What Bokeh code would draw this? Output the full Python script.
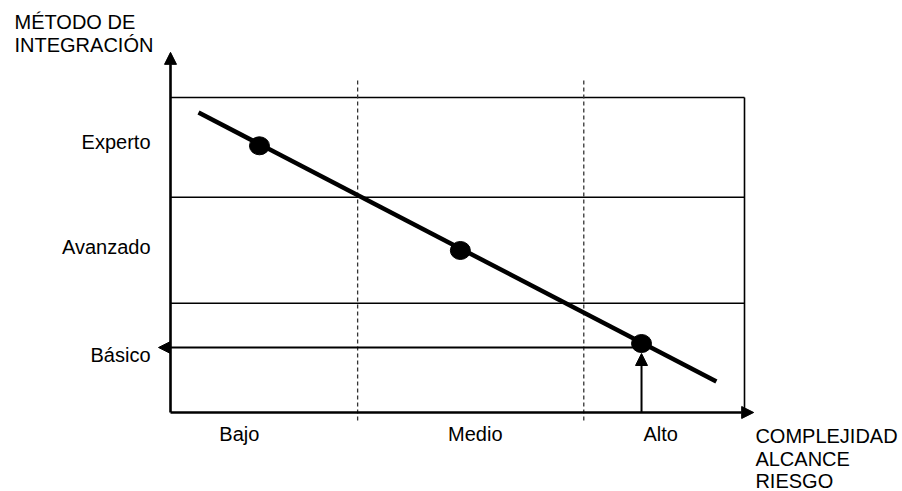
from bokeh.plotting import figure
from bokeh.models import Range1d, Arrow, NormalHead
from bokeh.core.properties import value
from bokeh.embed import file_html
from bokeh.resources import INLINE

# ---- data ----
levels = ["Básico", "Avanzado", "Experto"]           # y categories (bottom -> top)
level_bounds = [0.0, 1.04, 2.05, 3.0]                # horizontal band limits
level_label_y = [0.464, 1.495, 2.495]                # label baselines
categories = ["Bajo", "Medio", "Alto"]               # x categories
cat_bounds = [0.0, 32.6, 72.0, 100.0]                # vertical band limits
cat_label_x = [12.0, 53.1, 85.4]                     # label centres
trend_x = [4.88, 95.1]
trend_y = [2.857, 0.295]
point_x = [15.5, 50.5, 82.06]
point_y = [2.54, 1.543, 0.657]
selected = 2                                         # index of the highlighted point
y_title = ["MÉTODO DE", "INTEGRACIÓN"]
x_title = ["COMPLEJIDAD", "ALCANCE", "RIESGO"]

FONT = value("Liberation Sans")
FS = "20px"
DY = 0.0857   # baseline correction for the svg text renderer

p = figure(width=902, height=491, output_backend="svg", toolbar_location=None,
           x_axis_type=None, y_axis_type=None, min_border=0,
           x_range=Range1d(-29.617, 127.526), y_range=Range1d(-0.7524, 3.9238))
p.grid.visible = False
p.outline_line_color = None
p.background_fill_color = "white"

xmin, xmax = cat_bounds[0], cat_bounds[-1]
ymin, ymax = level_bounds[0], level_bounds[-1]

# horizontal band lines
for yb in level_bounds[1:]:
    p.segment(x0=xmin, y0=yb, x1=xmax, y1=yb, line_color="black", line_width=1.6)
# right border
p.segment(x0=xmax, y0=ymin, x1=xmax, y1=ymax, line_color="black", line_width=1.6)
# dashed category separators
for xb in cat_bounds[1:-1]:
    p.segment(x0=xb, y0=-0.076, x1=xb, y1=3.18, line_color="#333333",
              line_width=1.3, line_dash="4 3")

# axes with arrowheads
p.add_layout(Arrow(end=NormalHead(size=12, fill_color="black", line_color="black"),
                   x_start=xmin, y_start=ymin, x_end=xmin, y_end=3.43,
                   line_color="black", line_width=2.6))
p.add_layout(Arrow(end=NormalHead(size=12, fill_color="black", line_color="black"),
                   x_start=xmin, y_start=ymin, x_end=101.6, y_end=ymin,
                   line_color="black", line_width=2.6))

# trend line
p.line(trend_x, trend_y, line_color="black", line_width=4.5)

# points
p.ellipse(x=point_x, y=point_y, width=20, height=18, width_units="screen",
          height_units="screen", fill_color="black", line_color="black")

# arrows from selected point
sx, sy = point_x[selected], point_y[selected]
p.add_layout(Arrow(end=NormalHead(size=12, fill_color="black", line_color="black"),
                   x_start=sx, y_start=0.619, x_end=-2.09, y_end=0.619,
                   line_color="black", line_width=2))
p.add_layout(Arrow(end=NormalHead(size=12, fill_color="black", line_color="black"),
                   x_start=sx, y_start=ymin, x_end=sx, y_end=0.562,
                   line_color="black", line_width=2))

def sh(vals):
    return [v + DY for v in vals]

# labels
p.text(x=[-3.48] * len(levels), y=sh(level_label_y), text=levels, text_font=FONT,
       text_font_size=FS, text_align="right", text_baseline="alphabetic", text_color="black")
p.text(x=cat_label_x, y=sh([-0.295] * len(categories)), text=categories, text_font=FONT,
       text_font_size=FS, text_align="center", text_baseline="alphabetic", text_color="black")
p.text(x=[-27.18] * 2, y=sh([3.633, 3.414]), text=y_title, text_font=FONT,
       text_font_size=FS, text_align="left", text_baseline="alphabetic", text_color="black")
p.text(x=[101.9] * 3, y=sh([-0.314, -0.533, -0.738]), text=x_title, text_font=FONT,
       text_font_size=FS, text_align="left", text_baseline="alphabetic", text_color="black")

open("out.html", "w").write(file_html(p, INLINE))
